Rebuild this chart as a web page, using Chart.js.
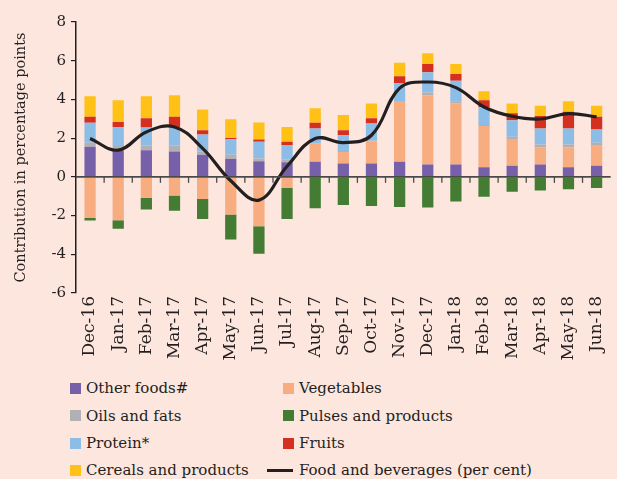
<!DOCTYPE html>
<html>
<head>
<meta charset="utf-8">
<script src="https://cdn.jsdelivr.net/npm/chart.js@4.4.1/dist/chart.umd.min.js"></script>
<style>
  html, body { margin: 0; padding: 0; background: #fde6de; overflow: hidden; width: 617px; height: 479px; }
  #wrap { position: absolute; left: 0; top: 0; width: 620px; height: 370px; }
  .leg { position: absolute; font-family: "DejaVu Serif", serif; font-size: 15px; color: #231f20; white-space: nowrap; line-height: 18px; }
  .sw { position: absolute; width: 11px; height: 11px; }
  .ln { position: absolute; width: 26px; height: 3px; background: #231f20; }
</style>
</head>
<body>
<div id="wrap"><canvas id="c" width="620" height="370"></canvas></div>
<div id="legend"></div>
<script>
const categories = ['Dec-16','Jan-17','Feb-17','Mar-17','Apr-17','May-17','Jun-17','Jul-17','Aug-17','Sep-17','Oct-17','Nov-17','Dec-17','Jan-18','Feb-18','Mar-18','Apr-18','May-18','Jun-18'];
const otherFoods = [1.55,1.34,1.38,1.31,1.14,0.93,0.81,0.76,0.78,0.69,0.69,0.78,0.64,0.64,0.50,0.57,0.64,0.50,0.57];
const vegetables = [-2.13,-2.24,-1.08,-0.96,-1.14,-1.94,-2.55,-0.57,0.93,0.60,1.15,3.09,3.58,3.15,2.13,1.38,0.88,1.02,1.07];
const oilsFats = [0.21,0.26,0.24,0.31,0.17,0.21,0.14,0.14,0.03,0.04,0.04,0.04,0.14,0.12,0.05,0.12,0.15,0.15,0.12];
const pulses = [-0.12,-0.44,-0.60,-0.79,-1.04,-1.29,-1.42,-1.61,-1.62,-1.45,-1.51,-1.56,-1.58,-1.27,-1.03,-0.77,-0.70,-0.64,-0.57];
const protein = [1.03,0.97,0.93,0.95,0.88,0.81,0.86,0.74,0.76,0.82,0.88,0.94,1.04,1.05,0.92,0.86,0.83,0.83,0.69];
const fruits = [0.31,0.27,0.48,0.53,0.22,0.06,0.12,0.17,0.29,0.26,0.27,0.35,0.43,0.36,0.36,0.36,0.65,0.86,0.65];
const cereals = [1.07,1.12,1.14,1.12,1.07,0.97,0.88,0.76,0.76,0.78,0.76,0.70,0.56,0.51,0.46,0.50,0.52,0.55,0.57];
const foodBeverages = [1.98,1.38,2.32,2.58,1.47,-0.20,-1.20,0.55,1.98,1.77,2.15,4.58,4.90,4.61,3.61,3.13,2.99,3.27,3.10];
const yTicks = [-6,-4,-2,0,2,4,6,8];

const FONT = "'DejaVu Serif', serif";
const INK = '#231f20';

const series = [
  { label: 'Other foods#', data: otherFoods, color: '#7560a9' },
  { label: 'Vegetables', data: vegetables, color: '#f7ad80' },
  { label: 'Oils and fats', data: oilsFats, color: '#b1b0b3' },
  { label: 'Pulses and products', data: pulses, color: '#437c32' },
  { label: 'Protein*', data: protein, color: '#8cbde6' },
  { label: 'Fruits', data: fruits, color: '#d42f1f' },
  { label: 'Cereals and products', data: cereals, color: '#ffc116' }
];

const datasets = series.map(s => ({
  type: 'bar', label: s.label, data: s.data, backgroundColor: s.color,
  borderWidth: 0, stack: 'food', barPercentage: 0.4, categoryPercentage: 1.0
}));
datasets.push({
  type: 'line', label: 'Food and beverages (per cent)', data: foodBeverages,
  borderColor: INK, borderWidth: 3.2, pointRadius: 0, tension: 0.4,
  fill: false, stack: 'line', order: -1
});

const zeroAxis = {
  id: 'zeroAxis',
  afterDatasetsDraw(chart) {
    const { ctx, chartArea, scales } = chart;
    const x = scales.x, y = scales.y;
    const y0 = y.getPixelForValue(0);
    ctx.save();
    ctx.strokeStyle = '#4a4a4a';
    ctx.lineWidth = 1.6;
    ctx.beginPath();
    ctx.moveTo(chartArea.left, y0);
    ctx.lineTo(chartArea.right, y0);
    ctx.stroke();
    ctx.lineWidth = 1.3;
    for (let i = 0; i < categories.length - 1; i++) {
      const px = (x.getPixelForValue(i) + x.getPixelForValue(i + 1)) / 2;
      ctx.beginPath();
      ctx.moveTo(px, y0);
      ctx.lineTo(px, y0 + 6);
      ctx.stroke();
    }
    ctx.restore();
  }
};

new Chart(document.getElementById('c'), {
  data: { labels: categories, datasets },
  options: {
    responsive: false,
    animation: false,
    layout: { padding: { left: 9, top: 22, right: 0, bottom: 0 } },
    plugins: { legend: { display: false }, tooltip: { enabled: false } },
    scales: {
      x: {
        stacked: true,
        grid: { display: false, drawTicks: false },
        border: { display: false },
        ticks: { color: INK, font: { family: FONT, size: 17 }, minRotation: 90, maxRotation: 90, padding: 3, autoSkip: false },
        afterFit(scale) { scale.height = 77; }
      },
      y: {
        stacked: true,
        min: -6, max: 8,
        afterBuildTicks(scale) { scale.ticks = yTicks.map(v => ({ value: v })); },
        grid: { drawOnChartArea: false, drawTicks: true, tickLength: 5, color: INK, lineWidth: 1.2 },
        border: { display: true, color: INK, width: 1.5 },
        ticks: { color: INK, font: { family: FONT, size: 15 }, padding: 5 },
        title: { display: true, text: 'Contribution in percentage points', color: INK, font: { family: FONT, size: 14.5 }, padding: { top: 4, bottom: 4 } },
        afterFit(scale) { scale.width = 67; }
      }
    }
  },
  plugins: [zeroAxis]
});

// legend (two columns, same order as datasets)
const legend = document.getElementById('legend');
const rowsY = [388, 415.7, 443.3, 470];
const colSwX = [70, 283];
const entries = series.map(s => ({ label: s.label, color: s.color, line: false }));
entries.push({ label: 'Food and beverages (per cent)', color: INK, line: true });
entries.forEach((e, i) => {
  const col = i % 2, row = Math.floor(i / 2);
  const cy = rowsY[row];
  const mark = document.createElement('div');
  if (e.line) {
    mark.className = 'ln';
    mark.style.left = (colSwX[col] - 16) + 'px';
    mark.style.top = (cy - 1.5) + 'px';
  } else {
    mark.className = 'sw';
    mark.style.left = colSwX[col] + 'px';
    mark.style.top = (cy - 5.5) + 'px';
    mark.style.background = e.color;
  }
  legend.appendChild(mark);
  const t = document.createElement('div');
  t.className = 'leg';
  t.textContent = e.label;
  t.style.left = (colSwX[col] + 16) + 'px';
  t.style.top = (cy - 9) + 'px';
  legend.appendChild(t);
});
</script>
</body>
</html>
